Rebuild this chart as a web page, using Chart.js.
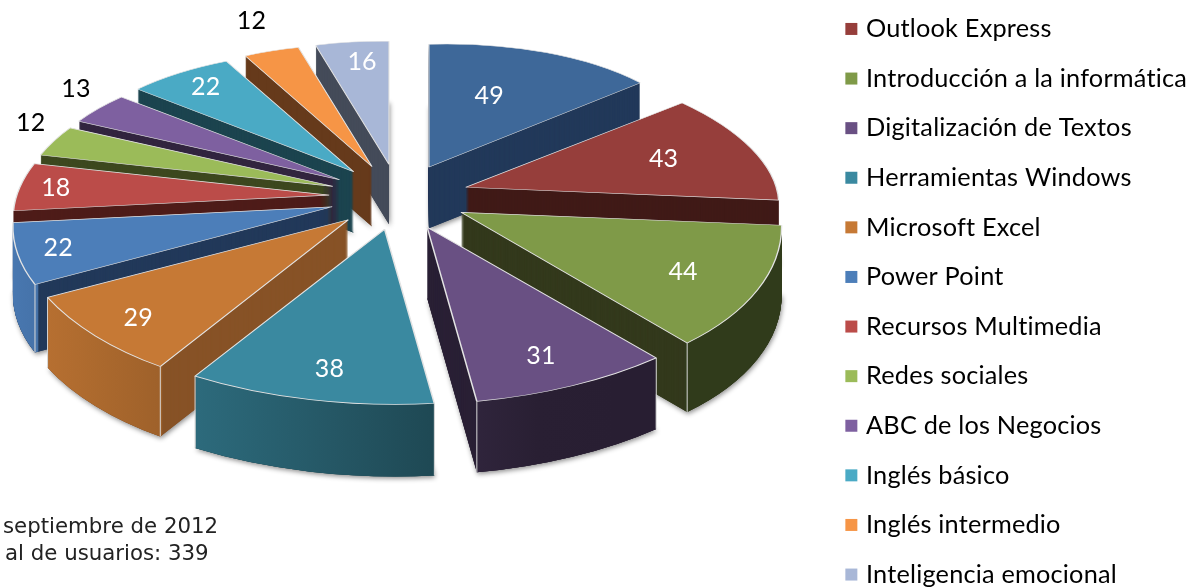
<!DOCTYPE html>
<html>
<head>
<meta charset="utf-8">
<title>Usuarios por curso</title>
<script src="https://cdn.jsdelivr.net/npm/chart.js@4"></script>
<style>
html, body { margin: 0; padding: 0; background: #fff; overflow: hidden; width: 1202px; height: 587px; }
canvas { display: block; position: absolute; left: -5px; top: -8px; }
.nota { position: absolute; font: 21.3px/26px "DejaVu Sans", sans-serif; color: #222; white-space: pre; }
</style>
</head>
<body>
<canvas id="myChart" width="1202" height="660"></canvas>
<div class="nota" style="left:3px;top:513px">septiembre de 2012</div>
<div class="nota" style="left:5px;top:540px">al de usuarios: 339</div>
<script>
// el primer curso no tiene leyenda visible en la imagen
const names = ['', 'Outlook Express', 'Introducción a la informática', 'Digitalización de Textos',
    'Herramientas Windows', 'Microsoft Excel', 'Power Point', 'Recursos Multimedia', 'Redes sociales',
    'ABC de los Negocios', 'Inglés básico', 'Inglés intermedio', 'Inteligencia emocional'];
const value = [49, 43, 44, 31, 38, 29, 22, 18, 12, 13, 22, 12, 16];
const topColors = ['#3E6899', '#963E3B', '#7F9A48', '#695083', '#3A89A0', '#C67935', '#4C7EB9',
    '#BB4C49', '#9BBB59', '#7E60A0', '#4AAAC5', '#F69546', '#A8B7D7'];
const wallColors = ['#22395A', '#401A17', '#33391C', '#2A2035', '#1F4A55', '#875226', '#22395A',
    '#4E1C19', '#3D481F', '#32253F', '#1C444F', '#663A1B', '#444B59'];
const outside = [8, 9, 11];
const labelFrac = [0.6, 0.65, 0.75, 0.8, 0.8, 0.85, 0.88, 0.87, 1.1, 1.1, 0.82, 1.1, 0.75];
const labelDx = [-11, 11, 0, -1, 4, 4, 2, -4, 3, -1, -2, -12, 2];
const labelDy = [2, 0, 5, 5, 6, 1, 0, 0, -4, -3, -2, -11, -6];

// geometria de la torta en pantalla (canvas corrido 5px y 8px)
const cx = 399, cy = 197, shiftX = 5, shiftY = 8;

// perspectiva: punto (u,v) de radio 1 a pixeles relativos al vertice; s es el desplazamiento del sector
function plane(u, v, s) {
    return [313 * u * (1 + 0.15 * (v + 0.22 * s)), 149.5 * v + 26.5 * v * v];
}

function shade(hex, f) {
    const n = parseInt(hex.slice(1), 16);
    return 'rgb(' + [(n >> 16) & 255, (n >> 8) & 255, n & 255].map(c => Math.round(c * f)).join(',') + ')';
}

const pie3d = {
    id: 'pie3d',
    beforeLayout(chart) {
        // sin ligaduras en la leyenda
        chart.ctx.letterSpacing = '0.2px';
    },
    beforeDatasetDraw(chart) {
        const ctx = chart.ctx;
        const arcs = chart.getDatasetMeta(0).data;
        const items = arcs.map((arc, i) => {
            const mid = (arc.startAngle + arc.endAngle) / 2;
            const s = Math.sin(mid), c = Math.cos(mid);
            const r = arc.outerRadius;
            // matriz que lleva el sector a sus dos esquinas exactas
            const a1 = arc.startAngle, a2 = arc.endAngle;
            const l1 = [r * Math.cos(a1), r * Math.sin(a1)], l2 = [r * Math.cos(a2), r * Math.sin(a2)];
            const p1 = plane(Math.cos(a1), Math.sin(a1), s), p2 = plane(Math.cos(a2), Math.sin(a2), s);
            const det = l1[0] * l2[1] - l2[0] * l1[1];
            return {
                arc, i, s, c, a1, a2, p1, p2,
                px: cx + 70 * c,
                py: cy + 33 * s,
                m11: (p1[0] * l2[1] - p2[0] * l1[1]) / det,
                m12: (p2[0] * l1[0] - p1[0] * l2[0]) / det,
                m21: (p1[1] * l2[1] - p2[1] * l1[1]) / det,
                m22: (p2[1] * l1[0] - p1[1] * l2[0]) / det,
                depth: Math.round(66 + 6 * s)
            };
        });
        items.sort((a, b) => a.s - b.s);

        ctx.save();
        ctx.translate(shiftX, shiftY);
        items.forEach(it => {
            const arc = it.arc, base = arc.options, r = arc.outerRadius;
            const detM = it.m11 * it.m22 - it.m12 * it.m21;
            const lx = X => arc.x + it.m22 * (X - it.px) / detM;
            const ly = X => arc.y - it.m21 * (X - it.px) / detM;
            const grad = ctx.createLinearGradient(lx(15), ly(15), lx(782), ly(782));
            for (let k = 0; k <= 10; k++) {
                const X = 15 + 76.7 * k;
                grad.addColorStop(k / 10, shade(topColors[it.i], Math.max(0.38, 0.97 - 0.00105 * X)));
            }
            const layer = dy => {
                ctx.save();
                ctx.translate(it.px, it.py + dy);
                ctx.transform(it.m11, it.m21, it.m12, it.m22, 0, 0);
                ctx.translate(-arc.x, -arc.y);
                arc.draw(ctx);
                ctx.restore();
            };
            const style = extra => { arc.options = Object.assign({}, base, { borderWidth: 0 }, extra); };
            // sombra de la base
            ctx.save();
            ctx.shadowColor = 'rgba(0,0,0,0.45)';
            ctx.shadowBlur = 5;
            ctx.shadowOffsetY = 2;
            ctx.shadowOffsetX = 1;
            style({ backgroundColor: wallColors[it.i] });
            layer(it.depth);
            ctx.restore();
            // paredes radiales
            style({ backgroundColor: wallColors[it.i] });
            for (let d = it.depth; d > 0; d--) layer(d);
            // pared exterior con degradado, solo la parte que mira al frente
            const from = Math.max(it.a1, 0), to = Math.min(it.a2, Math.PI);
            if (to - from > 0.15) {
                style({ backgroundColor: grad });
                arc.innerRadius = r - 4;
                arc.startAngle = from;
                arc.endAngle = to;
                for (let d = it.depth; d > 0; d--) layer(d);
                arc.startAngle = it.a1;
                arc.endAngle = it.a2;
                arc.innerRadius = 0;
            }
            // aristas verticales
            ctx.strokeStyle = '#D8D8D8';
            ctx.lineWidth = 1;
            [[it.a1, it.p1], [it.a2, it.p2]].forEach(([a, p]) => {
                if (Math.sin(a) < 0.15) return;
                ctx.beginPath();
                ctx.moveTo(it.px + p[0], it.py + p[1]);
                ctx.lineTo(it.px + p[0], it.py + p[1] + it.depth);
                ctx.stroke();
            });
            // cara superior
            style({ backgroundColor: topColors[it.i], borderColor: '#E4E4E4', borderWidth: 1.4 });
            layer(0);
            arc.options = base;
        });

        // etiquetas de valores
        ctx.textAlign = 'center';
        ctx.textBaseline = 'middle';
        ctx.font = '25px Lato, sans-serif';
        items.forEach(it => {
            const out = outside.includes(it.i);
            const f = labelFrac[it.i];
            const p = plane(it.c * f, it.s * f, it.s);
            ctx.fillStyle = out ? '#000' : '#fff';
            ctx.fillText(String(value[it.i]), it.px + p[0] + labelDx[it.i], it.py + p[1] - (out ? 10 : 0) + labelDy[it.i]);
        });
        ctx.restore();
        return false;
    }
};

var ctx = document.getElementById('myChart').getContext('2d');
var myChart = new Chart(ctx, {
    type: 'pie',
    plugins: [pie3d],
    data: {
        labels: names,
        datasets: [{
            data: value,
            backgroundColor: topColors,
            borderColor: topColors,
            borderWidth: 8
        }]
    },
    options: {
        responsive: false,
        animation: false,
        plugins: {
            tooltip: { enabled: false },
            legend: {
                position: 'right',
                align: 'start',
                labels: {
                    filter: item => item.index > 0,
                    boxWidth: 4,
                    boxHeight: 4,
                    padding: 24.3,
                    color: '#000',
                    font: { family: 'Lato, sans-serif', size: 25.3 }
                }
            }
        }
    }
});
</script>
</body>
</html>
